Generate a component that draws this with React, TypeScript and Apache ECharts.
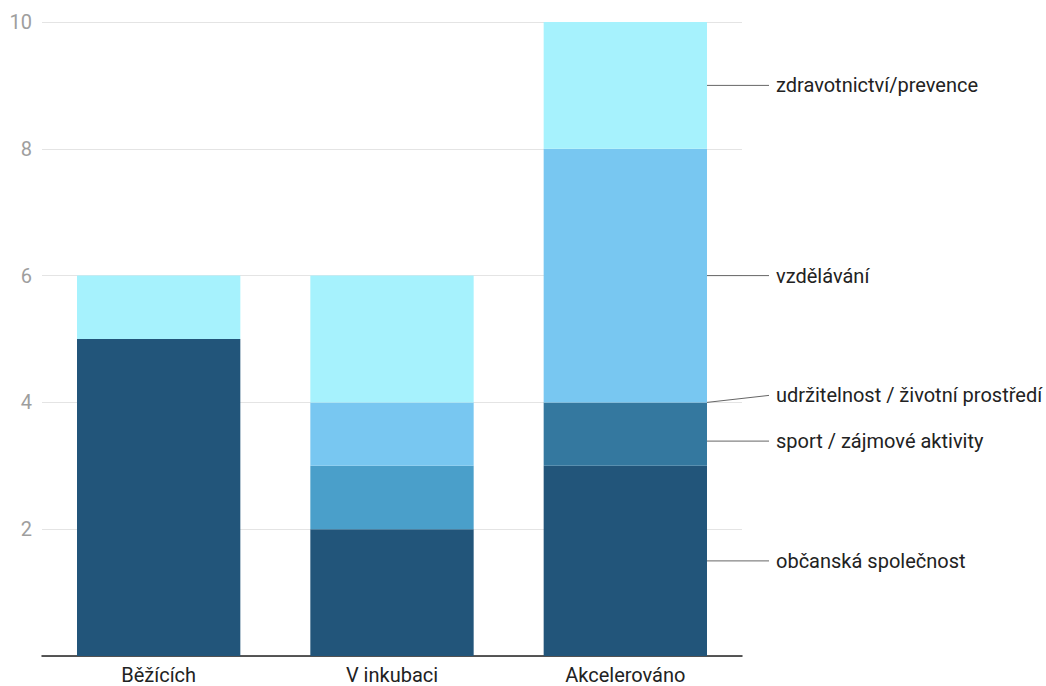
import React, { useEffect, useRef } from "react";
import * as echarts from "echarts";

const categories = ["Běžících", "V inkubaci", "Akcelerováno"];
const seriesNames = [
  "občanská společnost",
  "sport / zájmové aktivity",
  "udržitelnost / životní prostředí",
  "vzdělávání",
  "zdravotnictví/prevence",
];
const obcanska = [5, 2, 3];
const sport = [0, 0, 1];
const udrzitelnost = [0, 1, 0];
const vzdelavani = [0, 1, 4];
const zdravotnictvi = [1, 2, 2];
const colors = ["#22557a", "#34789f", "#4a9fca", "#78c7f1", "#a6f2fd"];
const labelShift = [0, 7, -7, 0, 0];

export default function App() {
  const ref = useRef<HTMLDivElement>(null);
  useEffect(() => {
    if (!ref.current) return;
    const chart = echarts.init(ref.current, null, { renderer: "svg" });
    const values = [obcanska, sport, udrzitelnost, vzdelavani, zdravotnictvi];
    const last = categories.length - 1;
    const series = values.map((vals, si) => ({
      type: "bar",
      name: seriesNames[si],
      stack: "total",
      barWidth: "70%",
      itemStyle: { color: colors[si] },
      labelLayout: { dx: 62, dy: labelShift[si] },
      data: vals.map((v, i) =>
        i === last
          ? {
              value: v,
              label: {
                show: true,
                position: "right",
                distance: 0,
                padding: [0, 0, 0, 7],
                backgroundColor: "rgba(255,255,255,0)",
                formatter: seriesNames[si],
                color: "#222",
                fontSize: 20,
                fontFamily: "Roboto",
              },
              labelLine: { show: true, lineStyle: { color: "#666", width: 1 } },
            }
          : { value: v }
      ),
    }));
    chart.setOption({
      animation: false,
      textStyle: { fontFamily: "Roboto" },
      grid: { left: 42, right: 304, top: 22, bottom: 29, containLabel: false },
      xAxis: {
        type: "category",
        data: categories,
        axisLine: { lineStyle: { color: "#222", width: 1.5 } },
        axisTick: { show: false },
        axisLabel: { color: "#222", fontSize: 20, margin: 8, lineHeight: 22, fontFamily: "Roboto" },
      },
      yAxis: {
        type: "value",
        min: 0,
        max: 10,
        interval: 2,
        axisLine: { show: false },
        axisTick: { show: false },
        splitLine: { lineStyle: { color: "#e4e4e4", width: 1 } },
        axisLabel: {
          color: "#9e9e9e",
          fontSize: 20,
          margin: 10,
          fontFamily: "Roboto",
          formatter: (v: number) => (v === 0 ? "" : String(v)),
        },
      },
      series,
    });
    return () => chart.dispose();
  }, []);
  return (
    <div
      ref={ref}
      style={{ position: "fixed", left: 0, top: 0, width: 1046, height: 686, background: "#fff" }}
    />
  );
}
